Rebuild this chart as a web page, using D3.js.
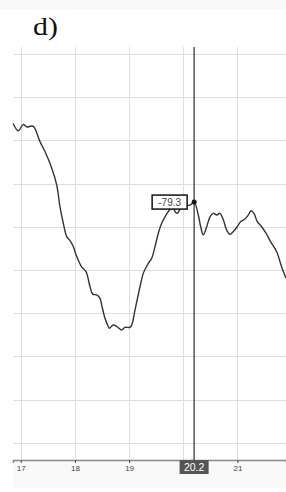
<!DOCTYPE html>
<html><head><meta charset="utf-8">
<script src="https://cdn.jsdelivr.net/npm/d3@7"></script>
<style>html,body{margin:0;padding:0;background:#fff;}svg{display:block;}</style>
</head><body>
<script>
const title = "d)";
const xTicks = [17, 18, 19, 20, 21];
const yGrid = [-135, -125, -115, -105, -95, -85, -75, -65, -55, -45];
const xs = [16.86,16.956,17.048,17.111,17.203,17.245,17.356,17.448,17.572,17.664,17.725,17.786,17.849,17.91,17.97,18.033,18.125,18.205,18.279,18.328,18.402,18.463,18.494,18.555,18.616,18.635,18.708,18.771,18.863,18.924,19.016,19.048,19.109,19.201,19.262,19.354,19.417,19.478,19.539,19.601,19.662,19.723,19.773,19.81,19.847,19.884,19.921,19.958,20.031,20.124,20.2,20.277,20.321,20.369,20.432,20.493,20.554,20.616,20.677,20.738,20.801,20.862,20.923,20.996,21.059,21.12,21.199,21.249,21.304,21.365,21.446,21.526,21.613,21.723,21.815,21.895];
const ys = [-61.1,-62.8,-61.3,-61.9,-61.7,-61.9,-65.3,-67.6,-71.4,-75.3,-80.4,-84.2,-87.3,-88.2,-89.6,-91.9,-94.3,-95.4,-98.9,-100.6,-100.8,-101.6,-103.1,-106.2,-108.1,-108.5,-107.75,-108.1,-108.9,-108.3,-108.3,-107.75,-104.3,-98.9,-95.8,-93.5,-92.3,-89.6,-86.5,-84.2,-82.7,-81.5,-80.7,-80.4,-81.5,-81.9,-81.4,-80.4,-80.1,-80.0,-79.3,-82.3,-85.0,-86.9,-85.0,-82.7,-81.9,-82.3,-81.9,-83.4,-85.8,-86.75,-86.1,-85.0,-83.8,-83.4,-82.3,-81.3,-81.9,-83.8,-85.0,-86.5,-88.5,-90.8,-94.3,-96.9];
const cursorX = 20.2;
const cursorY = -79.3;

const W = 286, H = 492;
const L = 13, R = 286, T = 47, B = 460;
const svg = d3.select("body").append("svg").attr("width", W).attr("height", H);

// backgrounds
svg.append("rect").attr("x", 0).attr("y", 0).attr("width", W).attr("height", 10).attr("fill", "#f8f8f8");
svg.append("rect").attr("x", L).attr("y", B).attr("width", R - L).attr("height", 28).attr("fill", "#f8f8f8");

const x = d3.scaleLinear().domain([16.858, 21.895]).range([L, R]);
const y = d3.scaleLinear().domain([-139, -43.4]).range([B, T]);

// title
svg.append("text").text(title)
  .attr("transform", "translate(33,35) scale(1.15,1)")
  .attr("font-family", "Liberation Serif, Times New Roman, serif")
  .attr("font-weight", "normal")
  .attr("font-size", 26).attr("fill", "#111");

// grid
svg.append("g").selectAll("line").data(yGrid).join("line")
  .attr("x1", L).attr("x2", R).attr("y1", d => Math.round(y(d)) + 0.5).attr("y2", d => Math.round(y(d)) + 0.5)
  .attr("stroke", "#dedede").attr("stroke-width", 1);
svg.append("g").selectAll("line").data(xTicks).join("line")
  .attr("x1", d => Math.round(x(d)) + 0.5).attr("x2", d => Math.round(x(d)) + 0.5).attr("y1", T).attr("y2", B)
  .attr("stroke", "#dedede").attr("stroke-width", 1);

// x axis
const ax = svg.append("g").attr("transform", `translate(0,${B})`)
  .call(d3.axisBottom(x).tickValues(xTicks).tickSize(3).tickPadding(2).tickFormat(d3.format("d")));
ax.select(".domain").attr("stroke", "#888").attr("stroke-width", 1.5);
ax.selectAll(".tick line").attr("stroke", "#444");
ax.selectAll(".tick text").attr("fill", "#444").attr("font-size", 8).attr("font-family", "Liberation Sans, Arial, sans-serif");

// line
svg.append("path").datum(xs.map((v, i) => [v, ys[i]]))
  .attr("d", d3.line().x(d => x(d[0])).y(d => y(d[1])).curve(d3.curveCatmullRom))
  .attr("fill", "none").attr("stroke", "#333").attr("stroke-width", 1.4);

// cursor
const cx = x(cursorX), cy = y(cursorY);
svg.append("line").attr("x1", cx).attr("x2", cx).attr("y1", T).attr("y2", B)
  .attr("stroke", "#555").attr("stroke-width", 1.5);
svg.append("circle").attr("cx", cx).attr("cy", cy).attr("r", 2.5).attr("fill", "#111");

// tooltip
svg.append("rect").attr("x", cx - 42).attr("y", cy - 7).attr("width", 35).attr("height", 14)
  .attr("fill", "#fff").attr("stroke", "#111").attr("stroke-width", 1.5);
svg.append("text").text(cursorY.toFixed(1)).attr("x", cx - 24.5).attr("y", cy + 4)
  .attr("text-anchor", "middle").attr("font-size", 10).attr("fill", "#444")
  .attr("font-family", "Liberation Sans, Arial, sans-serif");

// x cursor label
svg.append("rect").attr("x", cx - 14.5).attr("y", B).attr("width", 29).attr("height", 14).attr("fill", "#555");
svg.append("text").text(cursorX.toFixed(1)).attr("x", cx).attr("y", B + 11)
  .attr("text-anchor", "middle").attr("font-size", 10.5).attr("fill", "#fff")
  .attr("font-family", "Liberation Sans, Arial, sans-serif");
</script>
</body></html>
